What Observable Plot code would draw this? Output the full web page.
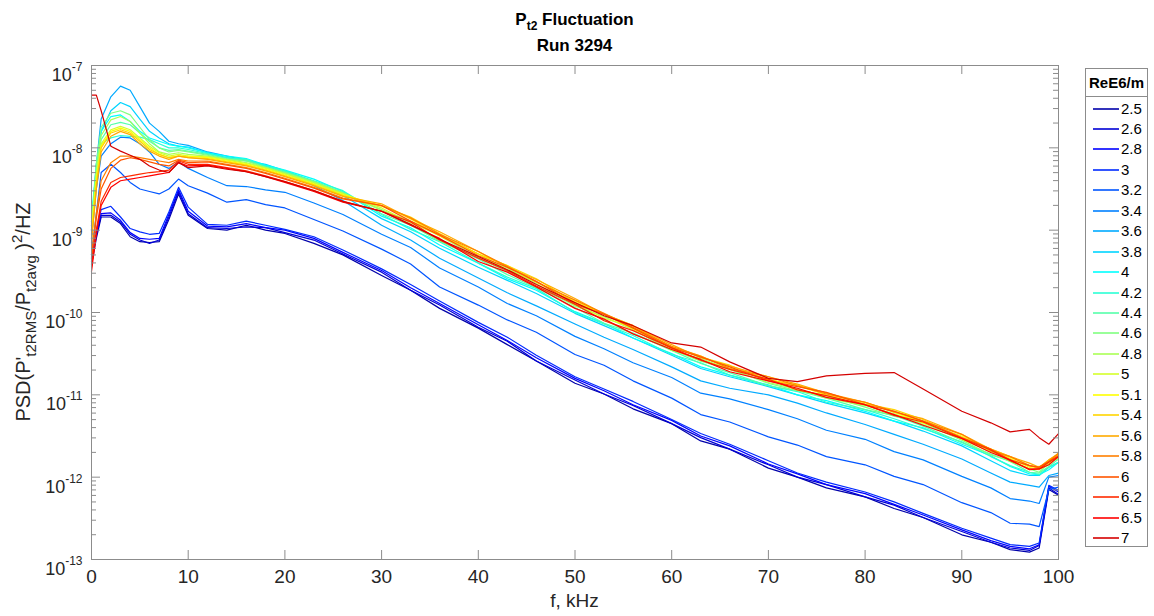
<!DOCTYPE html>
<html>
<head>
<meta charset="utf-8">
<script src="https://cdn.jsdelivr.net/npm/d3@7"></script>
<script src="https://cdn.jsdelivr.net/npm/@observablehq/plot@0.6"></script>
<style>
  body { margin: 0; background: #fff; font-family: "Liberation Sans", Arial, Helvetica, sans-serif; }
  #wrap { position: relative; width: 1154px; height: 616px; overflow: hidden; }
  #legend { position: absolute; left: 1085px; top: 68px; width: 63px; height: 479px; border: 1px solid #8c8c8c; box-sizing: border-box; background: #fff; }
  #legend .ttl { position: absolute; left: 0; top: 0; width: 100%; height: 28px; line-height: 28px; text-align: center; font-weight: bold; font-size: 15px; color: #000; border-bottom: 1px solid #8c8c8c; box-sizing: border-box; }
  #legend .row { position: absolute; left: 0; width: 100%; height: 20px; }
  #legend .sw { position: absolute; left: 7px; top: 9px; width: 26px; height: 2px; opacity: 0.8; }
  #legend .lb { position: absolute; left: 35px; top: 0; line-height: 20px; font-size: 15px; color: #000; }
</style>
</head>
<body>
<div id="wrap"></div>
<script>
// frequency grid (kHz)
const freqKHz = [0, 0.5, 1, 2, 3, 4, 5, 6, 7, 8, 9, 10, 12, 14, 16, 18, 20, 23, 26, 30, 33, 36, 40, 43, 46, 50, 53, 56, 60, 63, 66, 70, 73, 76, 80, 83, 86, 90, 93, 95, 97, 98, 99, 100];

// legend categories (ReE6/m)
const reLabels = ["2.5","2.6","2.8","3","3.2","3.4","3.6","3.8","4","4.2","4.4","4.6","4.8","5","5.1","5.4","5.6","5.8","6","6.2","6.5","7"];

// log10 of PSD values
const log10psd_2_5 = [-9.42,-9.10,-8.84,-8.84,-8.92,-9.08,-9.14,-9.15,-9.14,-8.87,-8.56,-8.82,-8.98,-9.00,-8.94,-9.00,-9.04,-9.16,-9.30,-9.55,-9.73,-9.95,-10.19,-10.39,-10.59,-10.86,-10.99,-11.17,-11.35,-11.56,-11.66,-11.89,-12.00,-12.13,-12.24,-12.38,-12.49,-12.70,-12.79,-12.88,-12.91,-12.86,-12.15,-12.22];
const log10psd_2_6 = [-9.38,-9.06,-8.82,-8.82,-8.90,-9.05,-9.12,-9.16,-9.12,-8.84,-8.53,-8.80,-8.97,-8.98,-8.96,-8.97,-9.03,-9.12,-9.29,-9.51,-9.73,-9.91,-10.18,-10.35,-10.59,-10.82,-10.99,-11.13,-11.35,-11.52,-11.66,-11.85,-12.00,-12.09,-12.24,-12.34,-12.49,-12.66,-12.79,-12.86,-12.89,-12.83,-12.13,-12.21];
const log10psd_2_8 = [-9.34,-9.04,-8.80,-8.79,-8.88,-9.03,-9.10,-9.11,-9.10,-8.81,-8.51,-8.77,-8.95,-8.96,-8.92,-8.97,-9.00,-9.10,-9.27,-9.49,-9.70,-9.89,-10.15,-10.34,-10.55,-10.80,-10.95,-11.12,-11.31,-11.50,-11.62,-11.84,-11.96,-12.09,-12.20,-12.33,-12.46,-12.64,-12.77,-12.84,-12.87,-12.82,-12.11,-12.18];
const log10psd_3_0 = [-9.30,-9.00,-8.75,-8.71,-8.84,-8.98,-9.02,-9.05,-9.04,-8.78,-8.48,-8.72,-8.93,-8.94,-8.89,-8.94,-8.99,-9.08,-9.24,-9.47,-9.66,-9.86,-10.12,-10.30,-10.52,-10.78,-10.93,-11.08,-11.30,-11.47,-11.60,-11.80,-11.95,-12.06,-12.18,-12.30,-12.44,-12.62,-12.74,-12.82,-12.84,-12.80,-12.10,-12.16];
const log10psd_3_2 = [-9.30,-8.80,-8.30,-8.20,-8.30,-8.42,-8.50,-8.53,-8.56,-8.50,-8.38,-8.46,-8.55,-8.66,-8.63,-8.69,-8.73,-8.87,-9.01,-9.23,-9.41,-9.69,-9.91,-10.09,-10.24,-10.51,-10.64,-10.83,-11.04,-11.24,-11.33,-11.51,-11.61,-11.75,-11.85,-11.99,-12.09,-12.31,-12.43,-12.56,-12.57,-12.60,-12.15,-12.12];
const log10psd_3_4 = [-9.10,-8.50,-8.10,-7.95,-7.87,-7.88,-7.95,-8.05,-8.20,-8.25,-8.17,-8.25,-8.36,-8.46,-8.47,-8.51,-8.54,-8.67,-8.81,-9.05,-9.21,-9.46,-9.69,-9.89,-10.04,-10.29,-10.44,-10.61,-10.79,-10.98,-11.05,-11.18,-11.29,-11.43,-11.54,-11.69,-11.79,-11.99,-12.13,-12.26,-12.29,-12.32,-12.00,-11.98];
const log10psd_3_6 = [-8.95,-8.20,-7.65,-7.38,-7.25,-7.30,-7.50,-7.70,-7.80,-7.92,-7.95,-7.97,-8.05,-8.10,-8.15,-8.22,-8.30,-8.46,-8.64,-8.94,-9.12,-9.34,-9.58,-9.76,-9.92,-10.14,-10.30,-10.45,-10.66,-10.83,-10.92,-11.00,-11.10,-11.22,-11.36,-11.48,-11.60,-11.78,-11.95,-12.06,-12.10,-12.12,-11.98,-11.95];
const log10psd_3_8 = [-9.00,-8.30,-7.80,-7.55,-7.45,-7.50,-7.65,-7.80,-7.88,-7.95,-7.98,-7.99,-8.06,-8.12,-8.16,-8.20,-8.28,-8.42,-8.58,-8.86,-9.02,-9.22,-9.45,-9.61,-9.77,-10.01,-10.16,-10.31,-10.52,-10.68,-10.78,-10.90,-11.00,-11.10,-11.22,-11.32,-11.44,-11.62,-11.80,-11.92,-11.98,-11.98,-11.88,-11.82];
const log10psd_4_0 = [-8.85,-8.20,-7.80,-7.62,-7.60,-7.68,-7.80,-7.88,-7.92,-7.96,-7.98,-8.00,-8.06,-8.10,-8.13,-8.21,-8.27,-8.38,-8.53,-8.83,-8.97,-9.18,-9.40,-9.59,-9.73,-9.99,-10.13,-10.31,-10.50,-10.66,-10.76,-10.88,-11.00,-11.07,-11.20,-11.32,-11.40,-11.60,-11.74,-11.87,-11.96,-11.97,-11.91,-11.82];
const log10psd_4_2 = [-8.90,-8.30,-7.95,-7.88,-7.85,-7.86,-7.87,-7.90,-7.95,-8.00,-8.00,-8.02,-8.07,-8.12,-8.14,-8.22,-8.28,-8.40,-8.52,-8.81,-8.99,-9.14,-9.40,-9.57,-9.71,-10.00,-10.14,-10.28,-10.51,-10.61,-10.76,-10.89,-10.96,-11.09,-11.18,-11.29,-11.41,-11.57,-11.75,-11.86,-11.94,-11.97,-11.88,-11.82];
const log10psd_4_4 = [-8.90,-8.30,-7.90,-7.72,-7.69,-7.72,-7.82,-7.92,-8.00,-8.03,-8.02,-8.04,-8.08,-8.13,-8.15,-8.23,-8.29,-8.41,-8.54,-8.80,-8.94,-9.13,-9.35,-9.54,-9.70,-9.94,-10.13,-10.25,-10.46,-10.62,-10.73,-10.89,-10.95,-11.04,-11.18,-11.25,-11.38,-11.58,-11.72,-11.81,-11.94,-11.95,-11.87,-11.78];
const log10psd_4_6 = [-8.95,-8.20,-7.75,-7.58,-7.55,-7.60,-7.75,-7.90,-8.00,-8.05,-8.03,-8.05,-8.09,-8.14,-8.16,-8.24,-8.30,-8.41,-8.55,-8.75,-8.93,-9.13,-9.34,-9.50,-9.69,-9.91,-10.09,-10.26,-10.45,-10.59,-10.69,-10.86,-10.95,-11.01,-11.15,-11.26,-11.34,-11.55,-11.73,-11.80,-11.90,-11.94,-11.83,-11.77];
const log10psd_4_8 = [-9.00,-8.30,-7.85,-7.66,-7.62,-7.68,-7.82,-7.95,-8.05,-8.08,-8.06,-8.08,-8.10,-8.14,-8.18,-8.24,-8.31,-8.42,-8.55,-8.76,-8.89,-9.07,-9.33,-9.46,-9.65,-9.92,-10.05,-10.21,-10.46,-10.56,-10.69,-10.85,-10.93,-11.04,-11.13,-11.23,-11.36,-11.54,-11.68,-11.81,-11.90,-11.91,-11.85,-11.75];
const log10psd_5_0 = [-9.00,-8.35,-7.95,-7.78,-7.74,-7.78,-7.88,-7.98,-8.06,-8.10,-8.08,-8.10,-8.11,-8.15,-8.19,-8.25,-8.32,-8.43,-8.56,-8.73,-8.91,-9.06,-9.29,-9.48,-9.63,-9.89,-10.07,-10.18,-10.44,-10.58,-10.68,-10.81,-10.94,-11.01,-11.12,-11.24,-11.32,-11.54,-11.69,-11.78,-11.91,-11.90,-11.83,-11.76];
const log10psd_5_1 = [-9.05,-8.40,-7.98,-7.80,-7.76,-7.80,-7.90,-8.00,-8.08,-8.12,-8.10,-8.10,-8.12,-8.16,-8.20,-8.26,-8.33,-8.44,-8.57,-8.70,-8.86,-9.07,-9.29,-9.43,-9.63,-9.86,-10.02,-10.20,-10.42,-10.53,-10.68,-10.81,-10.89,-11.00,-11.09,-11.21,-11.34,-11.50,-11.66,-11.77,-11.88,-11.87,-11.82,-11.73];
const log10psd_5_4 = [-9.10,-8.45,-8.00,-7.82,-7.78,-7.82,-7.92,-8.02,-8.08,-8.12,-8.10,-8.12,-8.13,-8.17,-8.21,-8.27,-8.34,-8.45,-8.58,-8.71,-8.84,-9.04,-9.29,-9.43,-9.59,-9.88,-10.02,-10.16,-10.42,-10.54,-10.64,-10.82,-10.88,-10.98,-11.11,-11.18,-11.30,-11.52,-11.66,-11.75,-11.86,-11.89,-11.79,-11.71];
const log10psd_5_6 = [-9.15,-8.50,-8.05,-7.86,-7.80,-7.84,-7.95,-8.04,-8.10,-8.14,-8.10,-8.12,-8.14,-8.18,-8.22,-8.28,-8.35,-8.46,-8.59,-8.68,-8.86,-9.02,-9.26,-9.45,-9.60,-9.83,-10.02,-10.16,-10.39,-10.55,-10.65,-10.78,-10.87,-10.98,-11.09,-11.21,-11.29,-11.48,-11.66,-11.75,-11.83,-11.88,-11.79,-11.72];
const log10psd_5_8 = [-9.30,-8.80,-8.40,-8.18,-8.10,-8.10,-8.12,-8.14,-8.16,-8.18,-8.14,-8.16,-8.16,-8.20,-8.24,-8.30,-8.37,-8.48,-8.61,-8.70,-8.85,-9.05,-9.26,-9.44,-9.63,-9.85,-10.01,-10.18,-10.41,-10.53,-10.68,-10.78,-10.89,-10.99,-11.09,-11.20,-11.32,-11.48,-11.68,-11.75,-11.86,-11.88,-11.81,-11.71];
const log10psd_6_0 = [-9.35,-8.85,-8.50,-8.25,-8.15,-8.12,-8.14,-8.17,-8.20,-8.22,-8.15,-8.18,-8.17,-8.21,-8.25,-8.31,-8.38,-8.49,-8.62,-8.70,-8.89,-9.06,-9.31,-9.45,-9.62,-9.90,-10.02,-10.19,-10.43,-10.54,-10.66,-10.83,-10.90,-10.97,-11.12,-11.20,-11.32,-11.52,-11.66,-11.79,-11.86,-11.88,-11.81,-11.74];
const log10psd_6_2 = [-9.45,-9.00,-8.65,-8.42,-8.36,-8.34,-8.32,-8.30,-8.29,-8.27,-8.16,-8.20,-8.20,-8.24,-8.28,-8.34,-8.41,-8.52,-8.65,-8.77,-8.90,-9.12,-9.34,-9.49,-9.68,-9.90,-10.10,-10.22,-10.43,-10.58,-10.69,-10.81,-10.94,-11.01,-11.12,-11.25,-11.33,-11.53,-11.67,-11.80,-11.90,-11.90,-11.82,-11.75];
const log10psd_6_5 = [-9.50,-9.05,-8.70,-8.48,-8.40,-8.38,-8.36,-8.34,-8.32,-8.30,-8.18,-8.22,-8.21,-8.25,-8.29,-8.35,-8.42,-8.53,-8.66,-8.77,-8.94,-9.10,-9.38,-9.51,-9.69,-9.95,-10.08,-10.26,-10.45,-10.57,-10.72,-10.83,-10.92,-11.03,-11.12,-11.24,-11.37,-11.53,-11.70,-11.79,-11.91,-11.90,-11.85,-11.75];
const log10psd_7_0 = [-7.36,-7.36,-7.55,-7.98,-8.04,-8.09,-8.14,-8.22,-8.27,-8.30,-8.18,-8.24,-8.22,-8.26,-8.29,-8.35,-8.41,-8.52,-8.65,-8.77,-8.93,-9.11,-9.32,-9.48,-9.66,-9.88,-10.04,-10.16,-10.37,-10.42,-10.60,-10.80,-10.84,-10.77,-10.74,-10.73,-10.93,-11.20,-11.34,-11.45,-11.42,-11.52,-11.60,-11.47];

const seriesLog = [log10psd_2_5, log10psd_2_6, log10psd_2_8, log10psd_3_0, log10psd_3_2, log10psd_3_4, log10psd_3_6, log10psd_3_8, log10psd_4_0, log10psd_4_2, log10psd_4_4, log10psd_4_6, log10psd_4_8, log10psd_5_0, log10psd_5_1, log10psd_5_4, log10psd_5_6, log10psd_5_8, log10psd_6_0, log10psd_6_2, log10psd_6_5, log10psd_7_0];

// tick values
const yTickExp = [-13, -12, -11, -10, -9, -8, -7];
const xTickVals = [0, 10, 20, 30, 40, 50, 60, 70, 80, 90, 100];

// styles (jet colormap, 22 entries)
const lineColors = ["#0000AA","#0000D4","#0000FF","#002AFF","#0055FF","#0080FF","#00AAFF","#00D4FF","#00FFFF","#2AFFD4","#55FFAA","#80FF80","#AAFF55","#D4FF2A","#FFFF00","#FFD400","#FFAA00","#FF8000","#FF5500","#FF2A00","#FF0000","#D40000"];

const FONT = '"Liberation Sans", Arial, Helvetica, sans-serif';
const W = 1154, H = 616, ML = 91, MR = 96, MT = 65, MB = 57;
const FW = W - ML - MR, FH = H - MT - MB;
const AX = "#8c8c8c";

const table = [];
reLabels.forEach((re, j) => {
  freqKHz.forEach((f, i) => table.push({re, f, psd: Math.pow(10, seriesLog[j][i])}));
});

const yMajor = yTickExp.map(e => Math.pow(10, e));
const yMinor = [];
yTickExp.slice(0, -1).forEach(e => { for (let m = 2; m <= 9; m++) yMinor.push(m * Math.pow(10, e)); });

const plot = Plot.plot({
  width: W, height: H,
  marginLeft: ML, marginRight: MR, marginTop: MT, marginBottom: MB,
  style: {fontFamily: FONT, fontSize: "18px", color: "#262626", background: "#fff", overflow: "visible"},
  x: {domain: [0, 100]},
  y: {type: "log", domain: [1e-13, 1e-7]},
  color: {domain: reLabels, range: lineColors},
  marks: [
    Plot.line(table, {x: "f", y: "psd", z: "re", stroke: "re", strokeWidth: 1.2}),
    Plot.frame({stroke: AX}),
    Plot.ruleY(yMajor, {stroke: AX, insetRight: FW - 9}),
    Plot.ruleY(yMajor, {stroke: AX, insetLeft: FW - 9}),
    Plot.ruleY(yMinor, {stroke: AX, insetRight: FW - 5}),
    Plot.ruleY(yMinor, {stroke: AX, insetLeft: FW - 5}),
    Plot.ruleX(xTickVals, {stroke: AX, insetTop: FH - 9}),
    Plot.ruleX(xTickVals, {stroke: AX, insetBottom: FH - 9}),
    Plot.axisY({ticks: yMajor, tickSize: 0, tickPadding: 9, label: null, tickFormat: d => String(Math.round(Math.log10(d))), fontSize: 18}),
    Plot.axisX({ticks: xTickVals, tickSize: 0, tickPadding: 10, label: null, tickFormat: d => String(d), fontSize: 19})
  ]
});

const wrap = document.getElementById("wrap");
wrap.appendChild(plot);
const svg = d3.select(plot);

// superscript exponents on y tick labels
svg.selectAll('g[aria-label="y-axis tick label"] text').each(function() {
  const t = d3.select(this);
  const e = t.text();
  t.text(null).attr("dy", "0.54em");
  t.append("tspan").text("10");
  t.append("tspan").attr("dy", -10).attr("font-size", 12).text(e);
});

// titles
const t1 = svg.append("text").attr("x", (ML + W - MR) / 2).attr("y", 25).attr("text-anchor", "middle")
  .attr("font-weight", "bold").attr("font-size", 17).attr("fill", "#000");
t1.append("tspan").text("P");
t1.append("tspan").attr("dy", 5).attr("font-size", 12).text("t2");
t1.append("tspan").attr("dy", -5).text(" Fluctuation");
svg.append("text").attr("x", (ML + W - MR) / 2).attr("y", 51).attr("text-anchor", "middle")
  .attr("font-weight", "bold").attr("font-size", 17).attr("fill", "#000").text("Run 3294");

// x label
svg.append("text").attr("x", (ML + W - MR) / 2).attr("y", 607).attr("text-anchor", "middle")
  .attr("font-size", 19).attr("fill", "#262626").text("f, kHz");

// y label
const yl = svg.append("text").attr("transform", `translate(30,${(MT + H - MB) / 2}) rotate(-90)`)
  .attr("text-anchor", "middle").attr("font-size", 20).attr("fill", "#262626");
yl.append("tspan").text("PSD(P'");
yl.append("tspan").attr("dy", 6).attr("font-size", 15).text("t2RMS");
yl.append("tspan").attr("dy", -6).text("/P");
yl.append("tspan").attr("dy", 6).attr("font-size", 15).text("t2avg");
yl.append("tspan").attr("dy", -6).text(" )");
yl.append("tspan").attr("dy", -8).attr("font-size", 15).text("2");
yl.append("tspan").attr("dy", 8).text("/HZ");

// legend
const lg = document.createElement("div");
lg.id = "legend";
const ttl = document.createElement("div");
ttl.className = "ttl";
ttl.textContent = "ReE6/m";
lg.appendChild(ttl);
reLabels.forEach((re, i) => {
  const row = document.createElement("div");
  row.className = "row";
  row.style.top = Math.round(29.5 + i * 20.45) + "px";
  const sw = document.createElement("div");
  sw.className = "sw";
  sw.style.backgroundColor = lineColors[i];
  const lb = document.createElement("div");
  lb.className = "lb";
  lb.textContent = re;
  row.appendChild(sw); row.appendChild(lb);
  lg.appendChild(row);
});
wrap.appendChild(lg);
</script>
</body>
</html>
